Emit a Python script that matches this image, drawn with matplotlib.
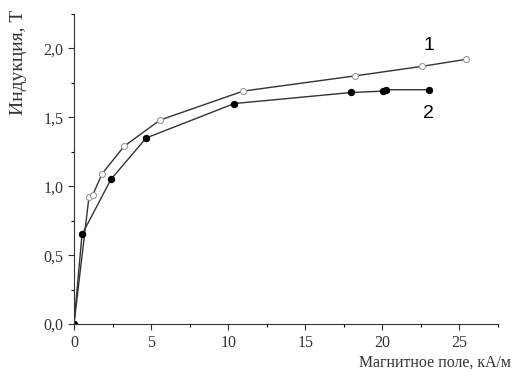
import numpy as np
import matplotlib
matplotlib.use("Agg")
import matplotlib.pyplot as plt
from matplotlib.ticker import MultipleLocator, FuncFormatter

# Curve 1 (open circles)
h1 = [0, 0.97, 1.23, 1.82, 3.25, 5.58, 10.97, 18.2, 22.6, 25.4]
b1 = [0, 0.92, 0.94, 1.09, 1.29, 1.48, 1.69, 1.80, 1.87, 1.92]
# Curve 2 (filled circles)
h2 = [0, 0.52, 2.4, 4.68, 10.4, 18.0, 20.06, 20.26, 23.0]
b2 = [0, 0.65, 1.05, 1.35, 1.60, 1.68, 1.69, 1.70, 1.70]

plt.rcParams["font.family"] = ["Liberation Serif", "DejaVu Serif"]

fig = plt.figure(figsize=(5.12, 3.76), dpi=100)
ax = fig.add_axes([0.1445, 0.138, 0.828, 0.825])

ax.plot(h1, b1, "-", color="#333333", lw=1.0, marker="o", ms=4.3,
        mfc="white", mec="#999999", mew=0.8)
ax.plot(h2, b2, "-", color="#333333", lw=1.0, marker="o", ms=4.3,
        mfc="black", mec="black")

ax.text(23.05, 2.02, "1", family="Liberation Sans", fontsize=14, ha="center", va="center")
ax.text(23.0, 1.53, "2", family="Liberation Sans", fontsize=14, ha="center", va="center")

ax.set_xlim(0, 27.5)
ax.set_ylim(0, 2.25)
ax.xaxis.set_major_locator(MultipleLocator(5))
ax.xaxis.set_minor_locator(MultipleLocator(2.5))
ax.yaxis.set_major_locator(MultipleLocator(0.5))
ax.yaxis.set_minor_locator(MultipleLocator(0.25))
ax.yaxis.set_major_formatter(FuncFormatter(lambda v, p: f"{v:.1f}".replace(".", ",")))
ax.tick_params(which="major", direction="out", length=4, width=0.8, labelsize=11.5, colors="#333333")
ax.tick_params(which="minor", direction="out", length=2, width=0.8)
for s in ["top", "right"]:
    ax.spines[s].set_visible(False)
for s in ["left", "bottom"]:
    ax.spines[s].set_color("#333333")

fig.text(0.997, 0.035, "Магнитное поле, кА/м", ha="right", va="center", fontsize=11.4, color="#333333")
fig.text(0.037, 0.973, "Индукция, Т", ha="center", va="top", rotation=90, fontsize=14, color="#333333")

fig.savefig("out.png", dpi=100)
